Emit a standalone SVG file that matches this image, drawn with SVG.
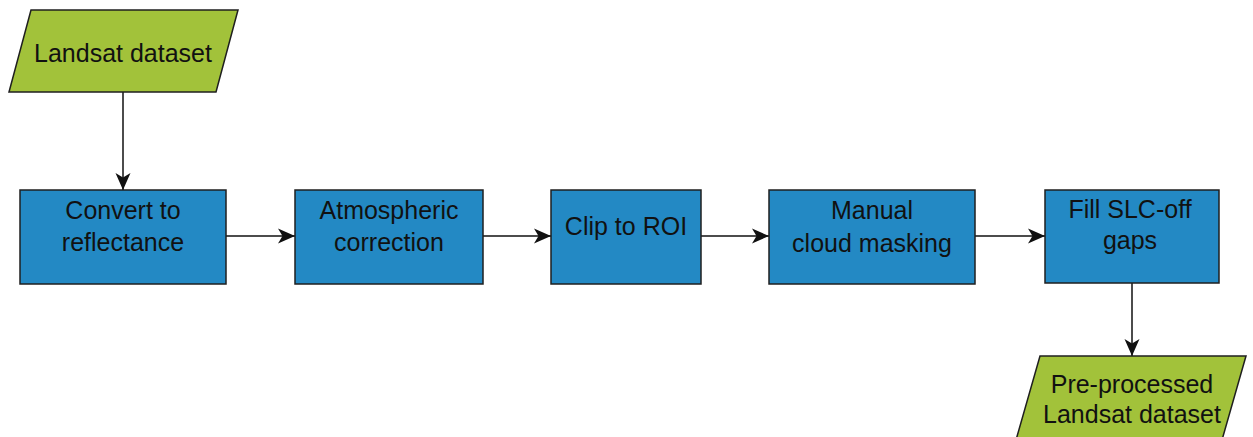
<svg xmlns="http://www.w3.org/2000/svg" width="1253" height="437" viewBox="0 0 1253 437">
<style>
.proc{fill:#2389c4;stroke:#1f1f1f;stroke-width:1.5}
.io{fill:#a2c23a;stroke:#1f1f1f;stroke-width:1.5}
.t{font-family:"Liberation Sans",Arial,sans-serif;font-size:25px;fill:#111;text-anchor:middle}
.c{stroke:#111;stroke-width:1.5;fill:none;marker-end:url(#ah)}
</style>
<defs>
<marker id="ah" markerUnits="userSpaceOnUse" markerWidth="20" markerHeight="20" viewBox="0 0 20 20" refX="18" refY="10" orient="auto">
<path d="M1,2.5 L18,10 L1,17.5 L5.5,10 z" fill="#111"/>
</marker>
</defs>
<rect width="1253" height="437" fill="#ffffff"/>
<g id="connectors">
<line class="c" x1="123" y1="92" x2="123" y2="190"/>
<line class="c" x1="226" y1="236" x2="295" y2="236"/>
<line class="c" x1="483" y1="236" x2="551" y2="236"/>
<line class="c" x1="701" y1="236" x2="769" y2="236"/>
<line class="c" x1="975" y1="236" x2="1045" y2="236"/>
<line class="c" x1="1132" y1="283" x2="1132" y2="356"/>
</g>
<g id="landsat">
<polygon class="io" points="31,10 238,10 216,92 9,92"/>
<text class="t" x="123" y="62">Landsat dataset</text>
</g>
<g id="convert">
<rect class="proc" x="20" y="190" width="206" height="94"/>
<text class="t" x="123" y="219">Convert to</text>
<text class="t" x="123" y="251">reflectance</text>
</g>
<g id="atmos">
<rect class="proc" x="295" y="190" width="188" height="94"/>
<text class="t" x="389" y="219">Atmospheric</text>
<text class="t" x="389" y="251">correction</text>
</g>
<g id="clip">
<rect class="proc" x="551" y="190" width="150" height="94"/>
<text class="t" x="626" y="235">Clip to ROI</text>
</g>
<g id="cloud">
<rect class="proc" x="769" y="190" width="206" height="94"/>
<text class="t" x="872" y="219">Manual</text>
<text class="t" x="872" y="252">cloud masking</text>
</g>
<g id="fill">
<rect class="proc" x="1045" y="190" width="174" height="93"/>
<text class="t" x="1130" y="218">Fill SLC-off</text>
<text class="t" x="1130" y="249">gaps</text>
</g>
<g id="preprocessed">
<polygon class="io" points="1040,356 1246,356 1222,440 1016,440"/>
<text class="t" x="1132" y="393">Pre-processed</text>
<text class="t" x="1132" y="423">Landsat dataset</text>
</g>
</svg>
